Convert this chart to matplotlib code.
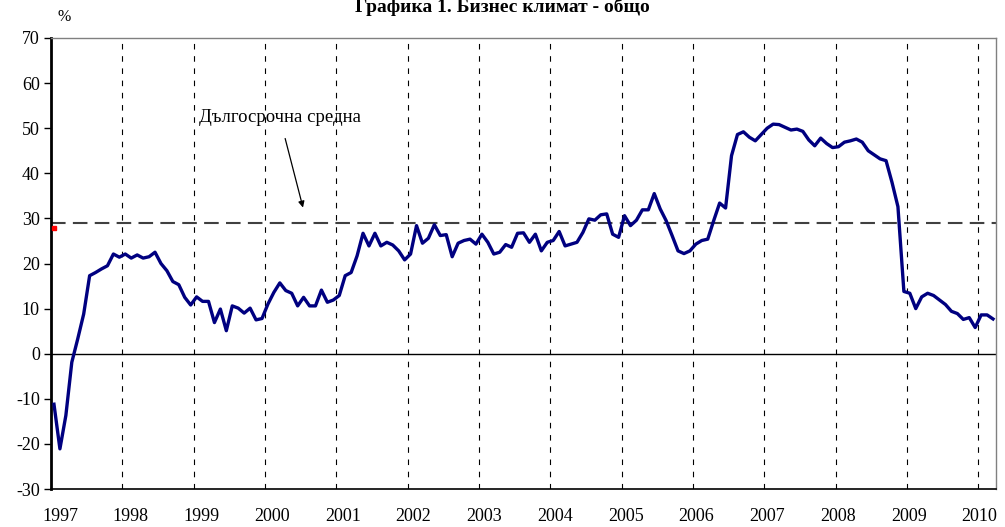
import numpy as np
import matplotlib
matplotlib.use("Agg")
import matplotlib.pyplot as plt

plt.rcParams['font.family'] = ['Liberation Serif', 'DejaVu Serif']
plt.rcParams['axes.unicode_minus'] = False

# monthly business climate balance, Jan 1997 - Mar 2010
y1997 = [-11.2, -21.1, -13.7, -1.9, 3.3, 8.8, 17.3, 18.0, 18.8, 19.5, 22.1, 21.4]
y1998 = [22.1, 21.2, 21.9, 21.2, 21.5, 22.5, 20.0, 18.4, 16.0, 15.3, 12.5, 10.8]
y1999 = [12.6, 11.6, 11.6, 6.9, 9.9, 5.1, 10.6, 10.1, 9.0, 10.1, 7.5, 7.8]
y2000 = [11.0, 13.6, 15.7, 14.0, 13.4, 10.6, 12.5, 10.6, 10.6, 14.1, 11.4, 11.9]
y2001 = [12.9, 17.3, 18.0, 21.7, 26.7, 23.9, 26.7, 23.9, 24.7, 24.1, 22.8, 20.8]
y2002 = [22.1, 28.4, 24.5, 25.6, 28.6, 26.2, 26.4, 21.5, 24.5, 25.1, 25.4, 24.3]
y2003 = [26.5, 24.7, 22.1, 22.5, 24.2, 23.6, 26.7, 26.8, 24.7, 26.5, 22.8, 24.7]
y2004 = [25.1, 27.1, 23.9, 24.3, 24.7, 26.9, 29.9, 29.6, 30.8, 31.0, 26.5, 25.8]
y2005 = [30.6, 28.4, 29.6, 31.9, 31.9, 35.5, 32.1, 29.5, 26.2, 22.8, 22.2, 22.8]
y2006 = [24.3, 25.1, 25.4, 29.5, 33.4, 32.3, 43.9, 48.6, 49.2, 48.0, 47.2, 48.6]
y2007 = [50.0, 50.9, 50.8, 50.2, 49.6, 49.8, 49.3, 47.4, 46.1, 47.8, 46.6, 45.7]
y2008 = [45.9, 46.9, 47.2, 47.6, 46.9, 45.0, 44.1, 43.2, 42.8, 38.0, 32.6, 13.8]
y2009 = [13.4, 10.0, 12.6, 13.4, 12.9, 11.9, 10.9, 9.4, 8.9, 7.6, 8.0, 5.8]
y2010 = [8.6, 8.6, 7.7]

values = (y1997 + y1998 + y1999 + y2000 + y2001 + y2002 + y2003 + y2004
          + y2005 + y2006 + y2007 + y2008 + y2009 + y2010)
years = list(range(1997, 2011))
long_avg = 28.9
red_point = 27.8

x = np.arange(len(values))

fig = plt.figure(figsize=(10.05, 5.27), dpi=100)
ax = fig.add_axes([51/1005, 38/527, 945/1005, 451/527])

# year gridlines
for k in range(1, len(years)):
    ax.axvline(12*k - 0.5, color='black', lw=0.8, ls=(0, (5, 6)), zorder=1)

ax.axhline(0, color='black', lw=1.0, zorder=2)
ax.axhline(long_avg, color='#404040', lw=1.5, ls=(0, (7, 3.5)), zorder=2)
ax.plot([0], [red_point], marker='s', ms=3, color='red', ls='none', zorder=3)
ax.plot(x, values, color='#000080', lw=2.4, zorder=4, solid_joinstyle='round')

ax.annotate('Дългосрочна средна', xy=(41.9, 32.4), xytext=(38, 52.3),
            ha='center', va='center', fontsize=13.5,
            arrowprops=dict(arrowstyle='-|>', color='black', lw=0.9,
                            mutation_scale=9, shrinkA=7, shrinkB=0))

ax.set_xlim(-0.5, len(values) - 0.5)
ax.set_ylim(-30, 70)
ax.set_yticks(range(-30, 71, 10))
# year labels sit a little right of each year start, drifting left toward 2010
ax.set_xticks([12*k + 1.0 - 0.1*k for k in range(len(years))])
ax.set_xticklabels([str(yy) for yy in years])
ax.tick_params(axis='y', direction='out', length=5, width=1, labelsize=13, pad=3)
ax.tick_params(axis='x', length=0, labelsize=13, pad=14)

ax.spines['left'].set_linewidth(2)
ax.spines['left'].set_color('black')
ax.spines['bottom'].set_linewidth(1.2)
ax.spines['bottom'].set_color('black')
ax.spines['top'].set_color('#808080')
ax.spines['top'].set_linewidth(1)
ax.spines['right'].set_color('#808080')
ax.spines['right'].set_linewidth(1)

fig.text(0.5, 1 - 12/527, 'Графика 1. Бизнес климат - общо', ha='center',
         va='baseline', fontsize=14, fontweight='bold')
fig.text(64/1005, 1 - 17/527, '%', ha='center', va='center', fontsize=11.5)

fig.savefig('out.png', dpi=100)
